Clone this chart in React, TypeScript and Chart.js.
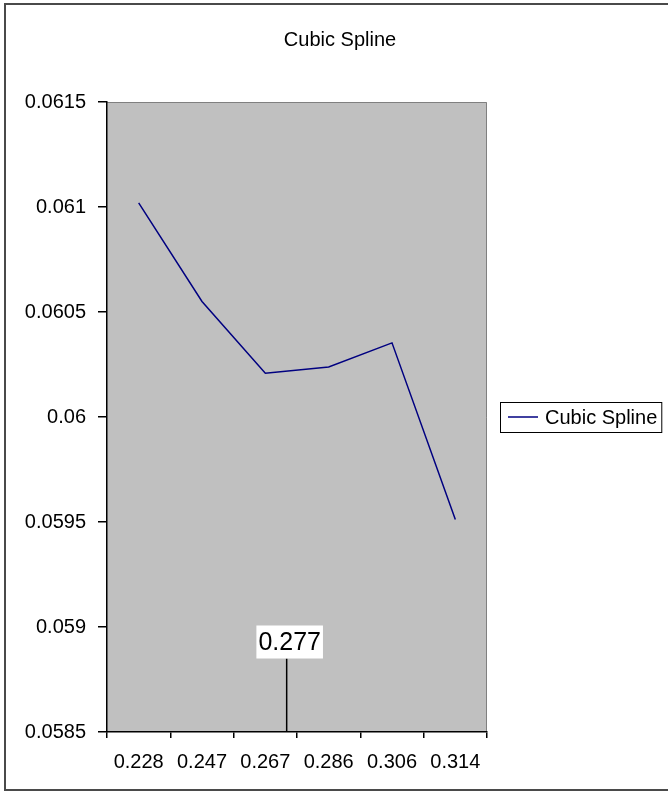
import React, { useEffect, useRef } from "react";
import { Chart, registerables } from "chart.js";

Chart.register(...registerables);

const categories = ["0.228", "0.247", "0.267", "0.286", "0.306", "0.314"];
const splineValues = [0.06102, 0.06055, 0.060208, 0.060238, 0.060353, 0.059512];
const seriesName = "Cubic Spline";
const chartTitle = "Cubic Spline";
const yMin = 0.0585;
const yMax = 0.0615;
const yStep = 0.0005;
const markerLabel = "0.277";
const markerIndex = 2.337;
const markerTopValue = 0.05885;

const FONT = "'Liberation Sans', Arial, sans-serif";

const decorPlugin = {
  id: "decor",
  beforeDraw(chart: any) {
    const { ctx, chartArea } = chart;
    ctx.save();
    ctx.fillStyle = "#ffffff";
    ctx.fillRect(0, 0, chart.width, chart.height);
    // outer frame
    ctx.strokeStyle = "#4a4a4a";
    ctx.lineWidth = 2;
    ctx.strokeRect(5, 4, chart.width + 10, chart.height - 5);
    // plot area
    ctx.fillStyle = "#c0c0c0";
    ctx.fillRect(chartArea.left, chartArea.top, chartArea.right - chartArea.left, chartArea.bottom - chartArea.top);
    ctx.strokeStyle = "#808080";
    ctx.lineWidth = 1;
    ctx.beginPath();
    ctx.moveTo(chartArea.left, chartArea.top + 0.5);
    ctx.lineTo(chartArea.right - 0.5, chartArea.top + 0.5);
    ctx.lineTo(chartArea.right - 0.5, chartArea.bottom);
    ctx.stroke();
    ctx.restore();
  },
  afterDatasetsDraw(chart: any) {
    const { ctx, chartArea, scales } = chart;
    const x = scales.x.getPixelForValue(markerIndex);
    const yTop = scales.y.getPixelForValue(markerTopValue);
    ctx.save();
    ctx.strokeStyle = "#000000";
    ctx.lineWidth = 1.5;
    ctx.beginPath();
    ctx.moveTo(x, yTop);
    ctx.lineTo(x, chartArea.bottom);
    ctx.stroke();
    ctx.font = `25px ${FONT}`;
    const tw = ctx.measureText(markerLabel).width;
    const bw = tw + 4;
    const bh = 33;
    const bx = x + 3 - bw / 2;
    ctx.fillStyle = "#ffffff";
    ctx.fillRect(bx, yTop - bh, bw, bh);
    ctx.fillStyle = "#000000";
    ctx.textAlign = "center";
    ctx.textBaseline = "middle";
    ctx.fillText(markerLabel, bx + bw / 2, yTop - bh / 2 + 1);

    // legend
    const ds = chart.data.datasets[0];
    const cy = (chartArea.top + chartArea.bottom) / 2;
    const lx = chartArea.right + 13;
    ctx.font = `20px ${FONT}`;
    const lw = ctx.measureText(ds.label).width;
    const boxW = 8 + 30 + 7 + lw + 4;
    ctx.fillStyle = "#ffffff";
    ctx.fillRect(lx, cy - 15, boxW, 30);
    ctx.strokeStyle = "#000000";
    ctx.lineWidth = 1;
    ctx.strokeRect(lx + 0.5, cy - 15 + 0.5, boxW, 30);
    ctx.strokeStyle = ds.borderColor;
    ctx.lineWidth = 1.5;
    ctx.beginPath();
    ctx.moveTo(lx + 8, cy);
    ctx.lineTo(lx + 38, cy);
    ctx.stroke();
    ctx.fillStyle = "#000000";
    ctx.textAlign = "left";
    ctx.textBaseline = "middle";
    ctx.fillText(ds.label, lx + 45, cy + 1);
    ctx.restore();
  },
};

export default function App() {
  const ref = useRef<HTMLCanvasElement | null>(null);
  useEffect(() => {
    document.body.style.margin = "0";
    if (!ref.current) return;
    const chart = new Chart(ref.current, {
      type: "line",
      data: {
        labels: categories,
        datasets: [
          {
            label: seriesName,
            data: splineValues,
            borderColor: "#000080",
            borderWidth: 1.5,
            pointRadius: 0,
            tension: 0,
            fill: false,
            yAxisID: "y",
          },
        ],
      },
      options: {
        animation: false,
        responsive: true,
        maintainAspectRatio: false,
        layout: { padding: { left: 12, right: 0, top: 0, bottom: 0 } },
        plugins: {
          legend: { display: false },
          tooltip: { enabled: false },
          title: {
            display: true,
            text: chartTitle,
            color: "#000000",
            font: { family: FONT, size: 20, weight: "normal", lineHeight: 1.2 },
            padding: { top: 28, bottom: 50 },
          },
        },
        scales: {
          x: {
            type: "category",
            offset: true,
            grid: {
              offset: true,
              drawOnChartArea: false,
              drawTicks: true,
              tickLength: 6,
              color: "#000000",
              lineWidth: 1.5,
            },
            border: { display: true, color: "#000000", width: 1.5 },
            ticks: {
              color: "#000000",
              font: { family: FONT, size: 20 },
              padding: 12,
              maxRotation: 0,
              autoSkip: false,
            },
            afterFit: (s: any) => {
              s.height = 59;
            },
          },
          y: {
            type: "linear",
            position: "left",
            min: yMin,
            max: yMax,
            grid: {
              drawOnChartArea: false,
              drawTicks: true,
              tickLength: 9,
              color: "#000000",
              lineWidth: 1.5,
            },
            border: { display: true, color: "#000000", width: 1.5 },
            ticks: {
              stepSize: yStep,
              color: "#000000",
              font: { family: FONT, size: 20 },
              padding: 12,
              callback: (v: any) => String(parseFloat(Number(v).toFixed(4))),
            },
            afterFit: (s: any) => {
              s.width = 95;
            },
          },
          yRight: {
            type: "linear",
            position: "right",
            display: true,
            grid: { display: false, drawTicks: false },
            border: { display: false },
            ticks: { display: false },
            afterFit: (s: any) => {
              s.width = 181;
            },
          },
        },
      },
      plugins: [decorPlugin],
    });
    return () => chart.destroy();
  }, []);
  return (
    <div style={{ width: 668, height: 791, position: "relative" }}>
      <canvas ref={ref} />
    </div>
  );
}
